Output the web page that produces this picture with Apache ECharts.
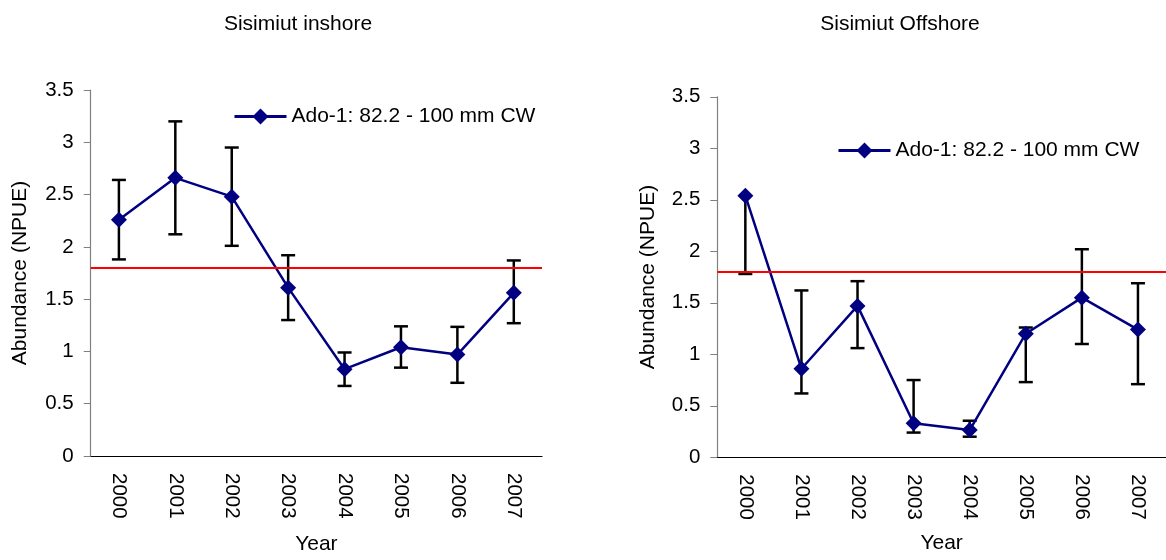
<!DOCTYPE html>
<html>
<head>
<meta charset="utf-8">
<style>
    html, body { margin: 0; padding: 0; background: #ffffff; }
    #chart { width: 1166px; height: 560px; }
</style>
<script src="https://cdn.jsdelivr.net/npm/echarts@6/dist/echarts.min.js"></script>
</head>
<body>
<div id="chart"></div>
<script>
/* Sisimiut NPUE, Ado-1 (82.2 - 100 mm CW), inshore vs offshore with error bars */
var YEARS = ["2000", "2001", "2002", "2003", "2004", "2005", "2006", "2007"];

var INSHORE = [2.26, 2.66, 2.48, 1.61, 0.83, 1.04, 0.97, 1.56];
var INSHORE_LOW = [1.88, 2.12, 2.01, 1.30, 0.67, 0.845, 0.70, 1.27];
var INSHORE_HIGH = [2.64, 3.20, 2.95, 1.92, 0.99, 1.24, 1.235, 1.87];

var OFFSHORE = [2.54, 0.86, 1.47, 0.33, 0.265, 1.20, 1.55, 1.24];
var OFFSHORE_LOW = [1.78, 0.62, 1.06, 0.24, 0.20, 0.73, 1.10, 0.71];
/* 2000 has no upper whisker in the original */
var OFFSHORE_HIGH = [null, 1.62, 1.71, 0.75, 0.355, 1.26, 2.02, 1.69];

var REFERENCE_LEVEL = 1.8;
var Y_TICKS = [0, 0.5, 1, 1.5, 2, 2.5, 3, 3.5];

var SERIES_NAME = "Ado-1: 82.2 - 100 mm CW";
var FONT = "'Liberation Sans', Arial, sans-serif";
var NAVY = "#000080";

(function () {
    "use strict";

    var chart = echarts.init(document.getElementById("chart"));

    /* error bar rows: [index, value, low, high] */
    function errRows(vals, low, high) {
        var rows = [];
        for (var i = 0; i < vals.length; i++) {
            rows.push([i, vals[i], low[i], high[i] == null ? "-" : high[i]]);
        }
        return rows;
    }

    function renderErr(params, api) {
        var idx = api.value(0);
        var mid = api.coord([idx, api.value(1)]);
        var lo = api.coord([idx, api.value(2)]);
        var hiVal = api.value(3);
        var hasHi = !isNaN(hiVal);
        var hi = hasHi ? api.coord([idx, hiVal]) : mid;
        var half = 7;
        var style = { stroke: "#000000", lineWidth: 2.5 };
        var kids = [
            { type: "line", shape: { x1: mid[0], y1: hi[1], x2: mid[0], y2: lo[1] }, style: style },
            { type: "line", shape: { x1: mid[0] - half, y1: lo[1], x2: mid[0] + half, y2: lo[1] }, style: style }
        ];
        if (hasHi) {
            kids.push({ type: "line", shape: { x1: mid[0] - half, y1: hi[1], x2: mid[0] + half, y2: hi[1] }, style: style });
        }
        return { type: "group", children: kids };
    }

    var txt = { color: "#000000", fontFamily: FONT, fontSize: 21 };

    function xAxis(gi, gap) {
        return {
            gridIndex: gi,
            type: "category",
            data: YEARS,
            name: "Year",
            nameLocation: "middle",
            nameGap: gap,
            nameTextStyle: txt,
            axisLine: { lineStyle: { color: "#000000", width: 1.2 } },
            axisTick: { length: 7, lineStyle: { color: "#000000" } },
            axisLabel: {
                interval: 0, rotate: -90, margin: 17,
                color: "#000000", fontFamily: FONT, fontSize: 20.5
            },
            splitLine: { show: false }
        };
    }

    function yAxis(gi, gap) {
        return {
            gridIndex: gi,
            type: "value",
            min: Y_TICKS[0],
            max: Y_TICKS[Y_TICKS.length - 1],
            interval: Y_TICKS[1] - Y_TICKS[0],
            name: "Abundance (NPUE)",
            nameLocation: "middle",
            nameGap: gap,
            nameTextStyle: txt,
            axisLine: { show: true, lineStyle: { color: "#808080", width: 1.2 } },
            axisTick: { show: true, length: 7, lineStyle: { color: "#808080" } },
            axisLabel: { margin: 17, color: "#000000", fontFamily: FONT, fontSize: 20.5 },
            splitLine: { show: false }
        };
    }

    function lineSeries(gi, vals) {
        return {
            name: SERIES_NAME,
            type: "line",
            xAxisIndex: gi,
            yAxisIndex: gi,
            data: vals,
            z: 4,
            symbol: "diamond",
            symbolSize: 16,
            lineStyle: { color: NAVY, width: 2.5 },
            itemStyle: { color: NAVY },
            markLine: {
                silent: true,
                symbol: "none",
                label: { show: false },
                lineStyle: { color: "#ff0000", width: 2, type: "solid" },
                data: [{ yAxis: REFERENCE_LEVEL }]
            }
        };
    }

    function errSeries(gi, rows) {
        return {
            type: "custom",
            xAxisIndex: gi,
            yAxisIndex: gi,
            z: 3,
            silent: true,
            renderItem: renderErr,
            encode: { x: 0, y: 2 },
            data: rows
        };
    }

    var legendBase = {
        data: [SERIES_NAME], itemWidth: 52, itemHeight: 20, itemGap: 5,
        textStyle: txt, selectedMode: false,
        lineStyle: { width: 3 }
    };

    chart.setOption({
        animation: false,
        title: [
            { text: "Sisimiut inshore", left: 293, top: 9, textAlign: "center",
              textStyle: { color: "#000000", fontFamily: FONT, fontSize: 21, fontWeight: "normal" } },
            { text: "Sisimiut Offshore", left: 895, top: 9, textAlign: "center",
              textStyle: { color: "#000000", fontFamily: FONT, fontSize: 21, fontWeight: "normal" } }
        ],
        legend: [
            echarts.util.extend({ left: 228, top: 101 }, legendBase),
            echarts.util.extend({ left: 832, top: 135 }, legendBase)
        ],
        grid: [
            { left: 90.7, width: 451.3, top: 90, height: 374.3 },
            { left: 717.3, width: 452, top: 96.8, height: 360.5 }
        ],
        xAxis: [xAxis(0, 78), xAxis(1, 75)],
        yAxis: [yAxis(0, 60), yAxis(1, 59)],
        series: [
            lineSeries(0, INSHORE),
            errSeries(0, errRows(INSHORE, INSHORE_LOW, INSHORE_HIGH)),
            lineSeries(1, OFFSHORE),
            errSeries(1, errRows(OFFSHORE, OFFSHORE_LOW, OFFSHORE_HIGH))
        ]
    });
}());
</script>
</body>
</html>
